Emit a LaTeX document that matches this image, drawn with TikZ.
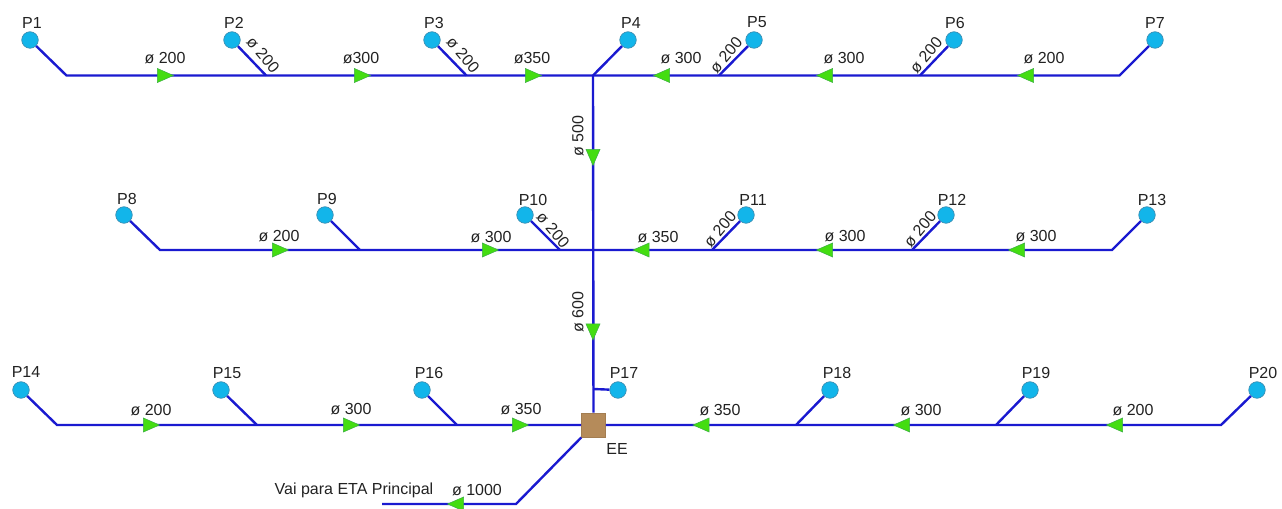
\documentclass[tikz,border=0pt]{standalone}
\usepackage{fontspec}
\setmainfont{Liberation Sans}
\usetikzlibrary{shapes.geometric}
\definecolor{pipecol}{HTML}{1A1AD0}
\definecolor{wellcol}{HTML}{12B5EA}
\definecolor{welledge}{HTML}{3C8DB0}
\definecolor{flowcol}{HTML}{44DD11}
\definecolor{flowedge}{HTML}{3CB043}
\definecolor{eecol}{HTML}{B58B5A}
\definecolor{txtcol}{HTML}{222222}
\tikzset{
  pipe/.style={draw=pipecol,line width=1.8pt,line join=miter},
  well/.style={circle,draw=welledge,fill=wellcol,line width=.5pt,minimum size=12.4pt,inner sep=0pt},
  flowbase/.style={isosceles triangle,isosceles triangle stretches,draw=flowedge,fill=flowcol,line width=.4pt,minimum width=10.5pt,minimum height=12pt,inner sep=0pt},
  flowr/.style={flowbase,shape border rotate=0},
  flowl/.style={flowbase,shape border rotate=180},
  flowd/.style={flowbase,shape border rotate=-90},
  lab/.style={inner sep=0pt,text=txtcol,font=\fontsize{12}{14}\selectfont},
  station/.style={rectangle,draw=eecol!90!black,fill=eecol,line width=.4pt,minimum size=18.2pt,inner sep=0pt},
}
\begin{document}
\begin{tikzpicture}[x=0.75pt,y=-0.75pt]
\useasboundingbox (0,0) rectangle (1282,509);
\clip (0,0) rectangle (1282,509);
% wells
\foreach \n/\x/\y in {1/30/40,2/232/40,3/432/40,4/628/40,5/754/40,6/954/40,7/1155/40,
  8/124/215,9/325/215,10/525/215,11/746/215,12/946/215,13/1147/215,
  14/21/390,15/221/390,16/422/390,17/618/390,18/830/390,19/1030/390,20/1257/390}
  \node[well] (p\n) at (\x,\y) {};
% well labels
\foreach \n/\x/\y in {1/32/23,2/234/23,3/434/23,4/631/23,5/757/22,6/955/23,7/1155/23,
  8/127/199,9/327/199,10/533/200,11/753/200,12/952/200,13/1152/200,
  14/26/372,15/227/373,16/429/373,17/624/373,18/837/373,19/1036/373,20/1263/373}
  \node[lab] (lp\n) at (\x,\y) {P\n};
% junctions
\foreach \n/\x/\y in {1/66.5/75.5,2/266/75.5,3/466.5/75.5,4/593/75.5,5/719/75.5,6/920/75.5,7/1119.5/75.5,
  8/160/250,9/360/250,10/560/250,11/712/250,12/912/250,13/1112/250,
  14/57/425,15/257/425,16/457/425,17/593/389,18/796/425,19/996/425,20/1221/425}
  \coordinate (j\n) at (\x,\y);
\coordinate (c2) at (593,250);
\coordinate (v1) at (516,504);
\coordinate (v2) at (382,504);
\node[station] (ee) at (593.5,425) {};
% pipes
\begin{scope}[on background layer/.style={}]
\draw[pipe] (p1) -- (j1) -- (j7) -- (p7);
\draw[pipe] (p2) -- (j2);
\draw[pipe] (p3) -- (j3);
\draw[pipe] (p4) -- (j4);
\draw[pipe] (p5) -- (j5);
\draw[pipe] (p6) -- (j6);
\draw[pipe] (j4) -- (ee);
\draw[pipe] (p8) -- (j8) -- (j13) -- (p13);
\draw[pipe] (p9) -- (j9);
\draw[pipe] (p10) -- (j10);
\draw[pipe] (p11) -- (j11);
\draw[pipe] (p12) -- (j12);
\draw[pipe] (p14) -- (j14) -- (ee);
\draw[pipe] (ee) -- (j20) -- (p20);
\draw[pipe] (p15) -- (j15);
\draw[pipe] (p16) -- (j16);
\draw[pipe] (p17) -- (j17);
\draw[pipe] (p18) -- (j18);
\draw[pipe] (p19) -- (j19);
\draw[pipe] (ee) -- (v1) -- (v2);
\end{scope}
% flow arrows
\foreach \n/\x/\y in {1/162/75.5,2/359/75.5,3/530/75.5,4/277/250,5/487/250,6/148/425,7/348/425,8/517/425}
  \node[flowr] (fr\n) at (\x,\y) {};
\foreach \n/\x/\y in {1/665/75.5,2/828/75.5,3/1029/75.5,4/644.5/250,5/828/250,6/1020/250,7/704.5/425,8/905/425,9/1118/425,10/459/504}
  \node[flowl] (fl\n) at (\x,\y) {};
\node[flowd] (fd1) at (593,154) {};
\node[flowd] (fd2) at (593,328.5) {};
% horizontal diameters
\foreach \n/\x/\y/\t in {1/165/58/ø 200,2/361/58/ø300,3/532/58/ø350,4/681/58/ø 300,5/844/58/ø 300,6/1044/58/ø 200,
  7/279/236/ø 200,8/491/237/ø 300,9/658/237/ø 350,10/845/236/ø 300,11/1036/236/ø 300,
  12/151/410/ø 200,13/351/409/ø 300,14/521/409/ø 350,15/720/410/ø 350,16/921/410/ø 300,17/1133/410/ø 200,18/477/490/ø 1000}
  \node[lab] (d\n) at (\x,\y) {\t};
% rotated diameters
\foreach \n/\x/\y/\a in {19/263/55/-50,20/463/55/-50,21/553/230/-50,22/726/55/50,23/926/55/50,24/720/229/50,25/920/229/50,26/578/136/90,27/578/312/90}
  \node[lab,rotate=\a] (d\n) at (\x,\y) {ø \ifnum\n=27 600\else\ifnum\n=26 500\else 200\fi\fi};
\node[lab] (ee lab) at (617,449) {EE};
\node[lab] (vai) at (354,490) {Vai para ETA Principal};
\end{tikzpicture}
\end{document}
